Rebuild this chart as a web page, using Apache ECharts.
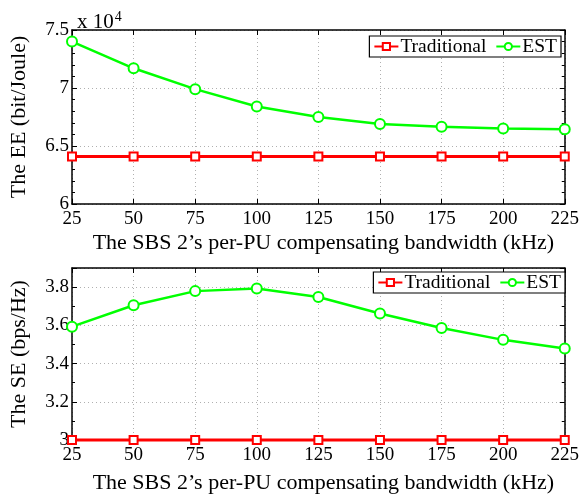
<!DOCTYPE html>
<html>
<head>
<meta charset="utf-8">
<script src="https://cdn.jsdelivr.net/npm/echarts@6/dist/echarts.min.js"></script>
<style>
  html, body { margin: 0; padding: 0; background: #fff; }
  #chart { width: 582px; height: 495px; }
</style>
</head>
<body>
<div id="chart"></div>
<script>
// x values (kHz)
const bandwidth = [25, 50, 75, 100, 125, 150, 175, 200, 225];
// EE, in units of 1e4 bit/Joule
const eeTraditional = [6.41, 6.41, 6.41, 6.41, 6.41, 6.41, 6.41, 6.41, 6.41];
const eeEST = [7.40, 7.17, 6.99, 6.84, 6.75, 6.69, 6.665, 6.65, 6.645];
// SE, bps/Hz
const seTraditional = [3.0, 3.0, 3.0, 3.0, 3.0, 3.0, 3.0, 3.0, 3.0];
const seEST = [3.593, 3.705, 3.779, 3.793, 3.748, 3.662, 3.586, 3.524, 3.479];

const pairs = (ys) => bandwidth.map((x, i) => [x, ys[i]]);

const FONT = 'Liberation Serif';
const RED = '#ff0000';
const GREEN = '#00ff00';

const chart = echarts.init(document.getElementById('chart'), null, { renderer: 'canvas' });

const gridLine = { show: true, lineStyle: { color: '#b0b0b0', type: [1, 3], width: 1 } };
const axisLine = { show: true, onZero: false, lineStyle: { color: '#000', width: 1.5 } };
const tick = { show: true, inside: true, length: 5, lineStyle: { color: '#000', width: 1 } };
const label = { color: '#000', fontFamily: FONT, fontSize: 19 };
const nameStyle = { color: '#000', fontFamily: FONT, fontSize: 22 };
const xTitle = "The SBS 2\u2019s per-PU compensating bandwidth (kHz)";

function xAxes(gridIndex, nameGap) {
    return [
        {
            type: 'value', gridIndex, min: 25, max: 225, interval: 25,
            axisLine, axisTick: tick, splitLine: gridLine,
            axisLabel: { ...label, margin: 6 },
            name: xTitle, nameLocation: 'middle', nameGap,
            nameTextStyle: { ...nameStyle, padding: [0, 0, 0, 10] }
        },
        {
            type: 'value', gridIndex, position: 'top', min: 25, max: 225, interval: 25,
            axisLine, axisTick: tick, axisLabel: { show: false }, splitLine: { show: false }
        }
    ];
}

function yAxes(gridIndex, min, max, interval, split, name, showMax) {
    return [
        {
            type: 'value', gridIndex, min, max, interval,
            axisLine, axisTick: tick, splitLine: gridLine,
            minorTick: { show: true, splitNumber: split, length: 3, lineStyle: { color: '#000' } },
            axisLabel: { ...label, margin: 3, showMaxLabel: showMax },
            name, nameLocation: 'middle', nameGap: 42,
            nameTextStyle: nameStyle
        },
        {
            type: 'value', gridIndex, position: 'right', min, max, interval,
            axisLine, axisTick: tick, axisLabel: { show: false }, splitLine: { show: false },
            minorTick: { show: true, splitNumber: split, length: 3, lineStyle: { color: '#000' } }
        }
    ];
}

function lineSeries(name, data, xi, yi, color, symbol, size, width) {
    return {
        name, type: 'line', data, xAxisIndex: xi, yAxisIndex: yi,
        symbol, symbolSize: size, showAllSymbol: true,
        lineStyle: { color, width },
        itemStyle: { color: '#fff', borderColor: color, borderWidth: 2 },
        clip: false, animation: false
    };
}

const legendBase = {
    data: ['Traditional', 'EST'],
    orient: 'horizontal',
    backgroundColor: '#fff',
    borderColor: '#000',
    borderWidth: 1.2,
    borderRadius: 0,
    padding: [0, 4, 0, 4],
    itemGap: 9,
    itemWidth: 24,
    itemHeight: 9,
    textStyle: { color: '#000', fontFamily: FONT, fontSize: 19.5, lineHeight: 21, padding: [0, 0, 0, -3] }
};

chart.setOption({
    animation: false,
    backgroundColor: '#fff',
    title: {
        text: 'x 10{s|4}',
        left: 72, top: 5,
        textStyle: {
            color: '#000', fontFamily: FONT, fontSize: 21, fontWeight: 'normal',
            rich: { s: { fontFamily: FONT, fontSize: 14, color: '#000', padding: [0, 0, 10, 1] } }
        }
    },
    legend: [
        { ...legendBase, right: 21, top: 36 },
        { ...legendBase, right: 17, top: 272 }
    ],
    grid: [
        { left: 70, right: 17, top: 30, height: 174 },
        { left: 70, right: 14, top: 268, height: 173 }
    ],
    xAxis: [...xAxes(0, 28), ...xAxes(1, 32)],
    yAxis: [
        ...yAxes(0, 6, 7.5, 0.5, 5, 'The EE (bit/Joule)', true),
        ...yAxes(1, 3, 3.9, 0.2, 2, 'The SE (bps/Hz)', false)
    ],
    series: [
        lineSeries('Traditional', pairs(eeTraditional), 0, 0, RED, 'rect', 8, 3),
        lineSeries('EST', pairs(eeEST), 0, 0, GREEN, 'circle', 10, 2.5),
        lineSeries('Traditional', pairs(seTraditional), 2, 2, RED, 'rect', 8, 3),
        lineSeries('EST', pairs(seEST), 2, 2, GREEN, 'circle', 10, 2.5)
    ]
});
</script>
</body>
</html>
